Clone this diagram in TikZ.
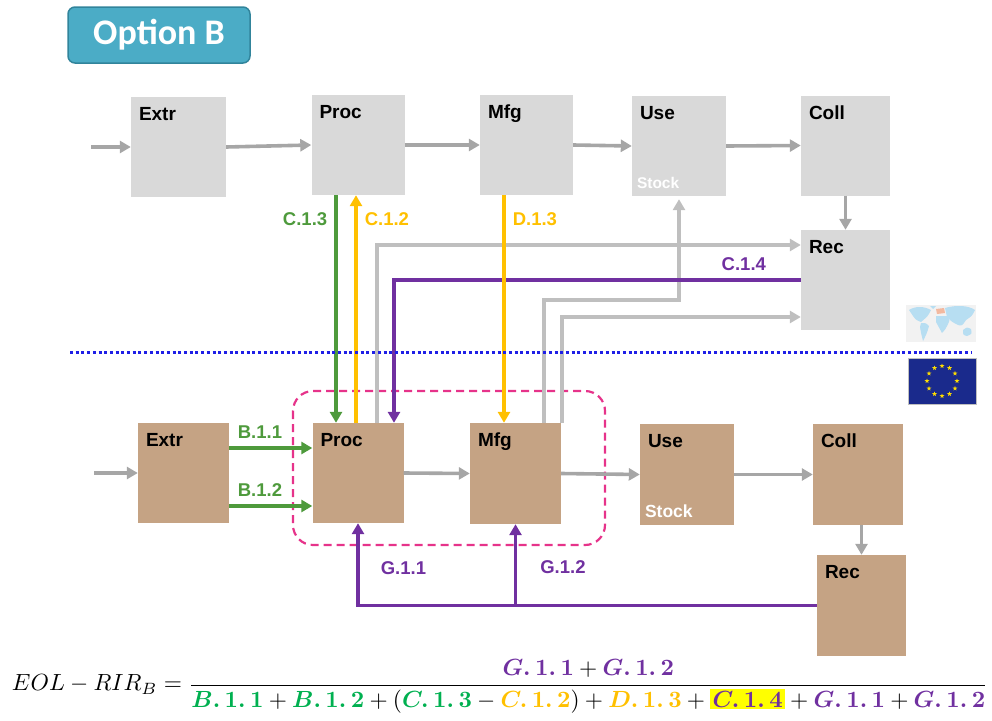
\documentclass[tikz,border=0pt]{standalone}
\usepackage[no-math]{fontspec}
\usepackage{amsmath}
\usetikzlibrary{arrows.meta,shapes.geometric}

\newfontfamily\lbfont{Liberation Sans}
\newfontfamily\titlefont{Carlito}

\definecolor{worldgray}{HTML}{D9D9D9}
\definecolor{eutan}{HTML}{C5A384}
\definecolor{flowgray}{HTML}{A6A6A6}
\definecolor{linkgray}{HTML}{BFBFBF}
\definecolor{flowgreen}{HTML}{4E9A3C}
\definecolor{flowgold}{HTML}{FFC000}
\definecolor{flowpurple}{HTML}{7030A0}
\definecolor{eqgreen}{HTML}{00B050}
\definecolor{hlyellow}{HTML}{FFFF00}
\definecolor{boundpink}{HTML}{E6338A}
\definecolor{optionblue}{HTML}{4BACC6}
\definecolor{optionedge}{HTML}{31849B}
\definecolor{flagblue}{HTML}{1A2A8C}
\definecolor{flagstar}{HTML}{FFDD00}
\definecolor{mapsea}{HTML}{F2F2F2}
\definecolor{mapland}{HTML}{B7DEF2}
\definecolor{mapeu}{HTML}{F2B9A0}
\definecolor{divblue}{HTML}{1F1FE6}

\newcommand{\flowterm}[3]{\textcolor{#1}{\boldsymbol{#2.\,1.\,#3}}}

\begin{document}
\begin{tikzpicture}
    [x=1pt,y=-1pt,>={Triangle[length=11pt,width=12pt]},
      stagename/.style={inner sep=0pt,font=\lbfont\bfseries\fontsize{19}{20}\selectfont},
      stage/.style={rectangle,inner sep=0pt,minimum width=93pt,minimum height=100pt,
        label={[stagename,anchor=north west,xshift=8pt,yshift=-10pt]north west:#1}},
      world/.style={stage=#1,fill=worldgray},
      eu/.style={stage=#1,fill=eutan},
      stock/.style={label={[stagename,text=white,anchor=south west,xshift=5pt,yshift=7pt,
        font=\lbfont\bfseries\fontsize{#1}{20}\selectfont]south west:Stock}},
      flowlabel/.style={inner sep=1pt,font=\lbfont\bfseries\fontsize{18.5}{20}\selectfont},
      flow/.style={->,line width=3.6pt,flowgray},
      link/.style={->,line width=3.6pt,linkgray},
      greenflow/.style={->,line width=3.6pt,flowgreen},
      goldflow/.style={->,line width=3.6pt,flowgold},
      purpleflow/.style={->,line width=3.6pt,flowpurple},
      boundary/.style={line width=2.2pt,boundpink,dash pattern=on 8pt off 5pt,rounded corners=20pt},
      divider/.style={line width=3pt,divblue,dash pattern=on 3pt off 2.7pt},
      optionbox/.style={rectangle,rounded corners=7pt,fill=optionblue,draw=optionedge,line width=1.5pt,
        minimum width=182pt,minimum height=56pt,text=white,font=\titlefont\bfseries\fontsize{36}{38}\selectfont}
    ]
    \useasboundingbox (0,0) rectangle (992,720);

    \node [optionbox] (option) at (159,35) {Option B};

    % global stages
    \node [world=Extr,minimum width=95pt] (tExtr) at (178.5,147) {};
    \node [world=Proc] (tProc) at (358,145) {};
    \node [world=Mfg] (tMfg) at (526.5,145) {};
    \node [world=Use,stock=15.5,minimum width=94pt] (tUse) at (679,146) {};
    \node [world=Coll,minimum width=89pt] (tColl) at (845.5,145.5) {};
    \node [world=Rec,minimum width=89pt] (tRec) at (845.5,280) {};

    % EU stages
    \node [eu=Extr,minimum width=91pt] (bExtr) at (183.5,473) {};
    \node [eu=Proc,minimum width=91pt] (bProc) at (358,473) {};
    \node [eu=Mfg,minimum width=91pt,minimum height=101pt] (bMfg) at (515.5,473.5) {};
    \node [eu=Use,stock=17.5,minimum width=94pt,minimum height=101pt] (bUse) at (687,474.5) {};
    \node [eu=Coll,minimum width=90pt,minimum height=101pt] (bColl) at (858,474.5) {};
    \node [eu=Rec,minimum width=89pt,minimum height=101pt] (bRec) at (861.5,605.5) {};

    \draw [boundary] (293,391) rectangle (605,545);

    % main chains
    \coordinate (tin) at (91,147);
    \coordinate (bin) at (94,473);
    \draw [flow] (tin) -- (tExtr.west);
    \draw [flow] (tExtr.east) -- (tProc.west);
    \draw [flow] (tProc.east) -- (tMfg.west);
    \draw [flow] (tMfg.east) -- (tUse.west);
    \draw [flow] (tUse.east) -- (tColl.west);
    \draw [flow] (tColl.south) -- (tRec.north);
    \draw [flow] (bin) -- (bExtr.west);
    \draw [flow] (bProc.east) -- (bMfg.west);
    \draw [flow] (bMfg.east) -- (bUse.west);
    \draw [flow] (bUse.east) -- (bColl.west);
    \draw [flow] (bRec.north |- bColl.south) -- (bRec.north);

    % exports to the world
    \draw [link] ([xshift=19pt]bProc.north) |- ([yshift=35pt]tRec.west);
    \draw [link] ([xshift=28.5pt]bMfg.north) |- ([yshift=-104pt]tUse.south) -- ([yshift=-3pt]tUse.south);
    \draw [link] ([xshift=46.5pt]bMfg.north) |- ([yshift=-37pt]tRec.west);

    \draw [purpleflow] (tRec.west) -| node [flowlabel,text=flowpurple,above=7pt,pos=0.07] (c14) {C.1.4}
      ([xshift=36pt]bProc.north);
    \draw [greenflow] ([xshift=-22pt]tProc.south) -- node [flowlabel,text=flowgreen,left=6pt,pos=0.105] (c13) {C.1.3}
      ([xshift=-22pt]bProc.north);
    \draw [goldflow] ([xshift=-2pt]bProc.north) -- node [flowlabel,text=flowgold,right=6pt,pos=0.895] (c12) {C.1.2}
      ([xshift=-2pt]tProc.south);
    \draw [goldflow] ([xshift=-22.5pt]tMfg.south) -- node [flowlabel,text=flowgold,right=6pt,pos=0.105] (d13) {D.1.3}
      ([xshift=-11.5pt]bMfg.north);

    \draw [greenflow] ([yshift=25pt]bExtr.east) -- node [flowlabel,text=flowgreen,above=7pt,pos=0.37] (b11) {B.1.1}
      ([yshift=25pt]bProc.west);
    \draw [greenflow] ([yshift=-33pt]bExtr.east) -- node [flowlabel,text=flowgreen,above=7pt,pos=0.37] (b12) {B.1.2}
      ([yshift=-33pt]bProc.west);

    % recycled content back into the EU
    \draw [purpleflow] (bRec.west) -| node [flowlabel,text=flowpurple,right=20pt,pos=0.73] (g11) {G.1.1} (bProc.south);
    \draw [purpleflow] (bMfg.south |- bRec.west) -- node [flowlabel,text=flowpurple,right=22pt,pos=0.47] (g12) {G.1.2}
      (bMfg.south);

    % border between world and EU
    \coordinate (divl) at (70,352);
    \coordinate (divr) at (972,352);
    \draw [divider] (divl) -- (divr);

    % world map
    \node [rectangle,fill=mapsea,inner sep=0pt,minimum width=70pt,minimum height=37pt] (worldmap) at (941,323.5) {};
    \fill [mapland] (909,310) .. controls (915,306) and (924,306) .. (931,310) .. controls (928,316) .. (921,322)
      .. controls (916,320) .. (913,316) -- cycle;
    \fill [mapland] (930,306) -- (936,306) -- (933,309) -- cycle;
    \fill [mapland] (921,323) .. controls (926,323) .. (929,326) .. controls (927,333) .. (923,341)
      .. controls (921,333) .. (920,327) -- cycle;
    \fill [mapland] (936,316) -- (947,316) .. controls (950,320) .. (948,324) .. controls (945,330) .. (942,333)
      .. controls (939,328) .. (936,322) -- cycle;
    \fill [mapland] (945,308) .. controls (955,305) and (968,305) .. (975,310) .. controls (972,316) .. (966,320)
      .. controls (962,326) .. (958,325) .. controls (952,322) .. (947,317) -- cycle;
    \fill [mapland] (963,330) .. controls (967,327) .. (971,329) .. controls (972,334) .. (967,336)
      .. controls (963,335) .. cycle;
    \fill [mapeu] (936,309) -- (944,308) -- (945,313) -- (937,314) -- cycle;

    % EU flag
    \node [rectangle,fill=flagblue,draw=linkgray,line width=0.6pt,inner sep=0pt,minimum width=68pt,minimum height=46pt]
      (euflag) at (942,381) {};
    \foreach \i in {1,...,12}
      \node [star,star points=5,star point ratio=2.4,fill=flagstar,inner sep=0pt,minimum size=5pt]
        (star\i) at ([shift={(\i*30:15pt)}]euflag.center) {};

    % indicator
    \node [inner sep=0pt] (eol) at (500,686) {\resizebox{976pt}{!}{$EOL-RIR_B=\dfrac{\flowterm{flowpurple}{G}{1}+\flowterm{flowpurple}{G}{2}}
      {\flowterm{eqgreen}{B}{1}+\flowterm{eqgreen}{B}{2}+(\flowterm{eqgreen}{C}{3}-\flowterm{flowgold}{C}{2})+\flowterm{flowgold}{D}{3}
      +\setlength{\fboxsep}{1pt}\colorbox{hlyellow}{$\flowterm{flowpurple}{C}{4}$}+\flowterm{flowpurple}{G}{1}+\flowterm{flowpurple}{G}{2}}$}};
\end{tikzpicture}
\end{document}
